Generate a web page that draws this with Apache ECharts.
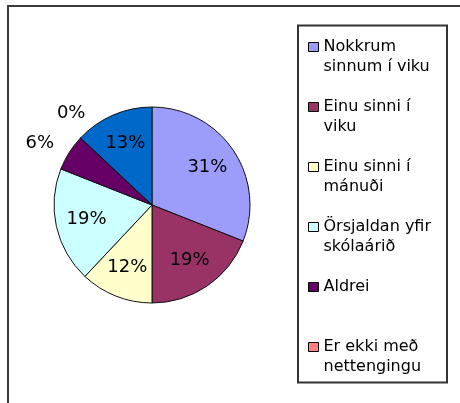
<!DOCTYPE html>
<html>
<head>
<meta charset="utf-8">
<script src="https://cdn.jsdelivr.net/npm/echarts@6/dist/echarts.min.js"></script>
<style>
  html, body { margin: 0; padding: 0; background: #ffffff; }
  #chart { width: 460px; height: 403px; }
</style>
</head>
<body>
<div id="chart"></div>
<script>
// Hversu oft nemendur nota netið – hlutföll í prósentum
const categories = [
  'Nokkrum\nsinnum í viku',
  'Einu sinni í\nviku',
  'Einu sinni í\nmánuði',
  'Örsjaldan yfir\nskólaárið',
  'Aldrei',
  'Er ekki með\nnettengingu',
  'Annað'
];
const values = [31, 19, 12, 19, 6, 0, 13];
const sliceColors = ['#9C9CFA', '#993366', '#FFFFCC', '#CCFFFF', '#660066', '#FF8080', '#0068C8'];
// Legend lists the first six categories only
const legendNames = categories.slice(0, 6);

const FONT = 'DejaVu Sans';
const CENTER = [152, 205];
const R = 98;
const OUTSIDE_LIMIT = 10; // smaller slices get their label outside the pie

// Legend swatch: 10x9 square at the top of a 10x29 box, so it lines up
// with the first line of a two-line legend entry
const SWATCH = 'path://M0,0H10V9H0Z M0,29L0,29';

const sliceData = categories.map((name, i) => ({
  name: name,
  value: values[i],
  itemStyle: { color: sliceColors[i] },
  label: { show: values[i] < OUTSIDE_LIMIT }
}));

const labelData = categories.map((name, i) => ({
  name: name,
  value: values[i],
  label: { show: values[i] >= OUTSIDE_LIMIT }
}));

const chart = echarts.init(document.getElementById('chart'), null, { renderer: 'canvas' });

chart.setOption({
  animation: false,
  backgroundColor: '#ffffff',
  graphic: [
    // chart frame (top and left edges visible)
    { type: 'rect', shape: { x: 8, y: 6, width: 520, height: 480 },
      style: { fill: 'none', stroke: '#3a3a3a', lineWidth: 2 }, z: 0 },
    // legend box
    { type: 'rect', shape: { x: 298, y: 25.5, width: 149, height: 357 },
      style: { fill: '#ffffff', stroke: '#333333', lineWidth: 2 }, z: 0 }
  ],
  legend: {
    orient: 'vertical',
    left: 308,
    top: 37,
    padding: 0,
    itemWidth: 10,
    itemHeight: 29,
    itemGap: 20,
    icon: SWATCH,
    selectedMode: false,
    data: legendNames,
    itemStyle: { borderColor: '#000000', borderWidth: 1 },
    formatter: name => name.indexOf('\n') >= 0 ? name : name + '\n ',
    textStyle: {
      fontFamily: FONT,
      fontSize: 16,
      lineHeight: 20,
      color: '#000000'
    },
    z: 5
  },
  series: [
    {
      name: 'slices',
      type: 'pie',
      center: CENTER,
      radius: [0, R],
      startAngle: 90,
      clockwise: true,
      avoidLabelOverlap: false,
      silent: true,
      itemStyle: { borderColor: '#111111', borderWidth: 1 },
      label: {
        position: 'outside',
        formatter: '{c}%',
        fontFamily: FONT,
        fontSize: 18,
        color: '#000000',
        distanceToLabelLine: 0
      },
      labelLine: { show: false, length: 18, length2: 0 },
      labelLayout: p => (p.dataIndex === 5 ? { dx: 18, dy: -12 } : {}),
      data: sliceData
    },
    {
      name: 'labels',
      type: 'pie',
      center: CENTER,
      radius: [0, 128],
      startAngle: 90,
      clockwise: true,
      silent: true,
      itemStyle: { color: 'rgba(0,0,0,0)', borderWidth: 0 },
      label: {
        position: 'inside',
        formatter: '{c}%',
        fontFamily: FONT,
        fontSize: 18,
        color: '#000000'
      },
      labelLine: { show: false },
      data: labelData,
      z: 3
    }
  ]
});
</script>
</body>
</html>
